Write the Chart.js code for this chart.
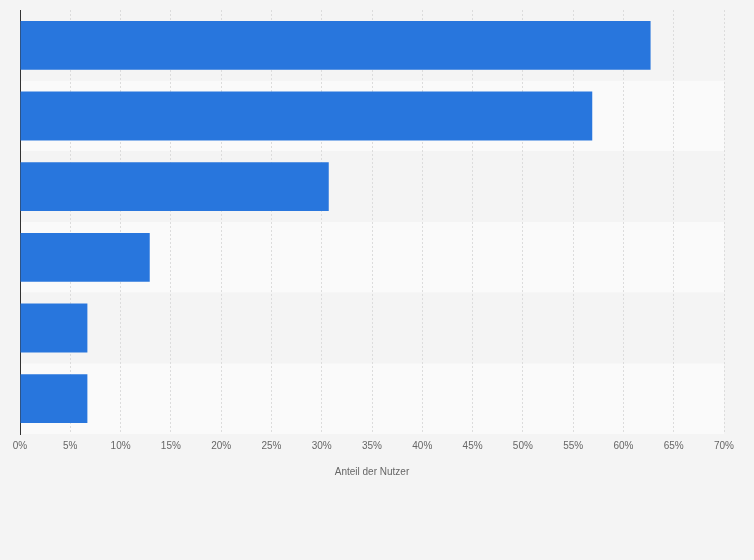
<!DOCTYPE html>
<html><head><meta charset="utf-8">
<script src="https://cdn.jsdelivr.net/npm/chart.js@4"></script>
<style>html,body{margin:0;background:#f4f4f4}#w{width:754px;height:560px}</style>
</head><body><div id="w"><canvas id="c"></canvas></div>
<script>
const categories = ["A","B","C","D","E","F"];
const values = [62.7, 56.9, 30.7, 12.9, 6.7, 6.7];
const tickLabels = ["0%","5%","10%","15%","20%","25%","30%","35%","40%","45%","50%","55%","60%","65%","70%"];
const rowBg = {id:'rowBg',beforeDraw(ch){const {ctx,chartArea:a,scales:{y}}=ch;const h=(a.bottom-a.top)/categories.length;
categories.forEach((c,i)=>{ctx.fillStyle=i%2?'#fafafa':'#f4f4f4';ctx.fillRect(a.left,a.top+i*h,a.right-a.left,h);});}};
new Chart(document.getElementById('c'),{type:'bar',
data:{labels:categories,datasets:[{data:values,backgroundColor:'#2876dd',barPercentage:0.69,categoryPercentage:1}]},
options:{indexAxis:'y',responsive:true,maintainAspectRatio:false,animation:false,
layout:{padding:{left:20,right:30,top:10,bottom:78}},
plugins:{legend:{display:false},tooltip:{enabled:false}},
scales:{x:{min:0,max:70,ticks:{stepSize:5,callback:(v,i)=>tickLabels[i],color:'#666',font:{family:'Arial, Liberation Sans',size:10},padding:6},
grid:{color:'#dcdcdc',drawTicks:false},border:{display:false,dash:[2,2]},
title:{display:true,text:'Anteil der Nutzer',color:'#666',font:{family:'Arial, Liberation Sans',size:10},padding:{top:8}}},
y:{ticks:{display:false},grid:{display:false,drawTicks:false},border:{color:'#333',width:1}}}},
plugins:[rowBg]});
</script></body></html>
